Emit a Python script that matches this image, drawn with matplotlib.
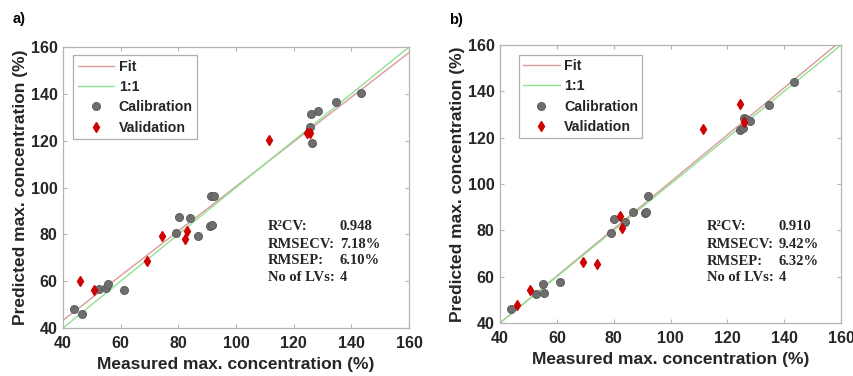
import matplotlib
matplotlib.use("Agg")
import matplotlib.pyplot as plt
import numpy as np

# ---- data ----
ticks = [40, 60, 80, 100, 120, 140, 160]

a_cal_x = [43.7, 46.5, 52.6, 55.0, 55.6, 61.2, 79.1, 80.3, 83.9, 86.8, 91.1, 91.7, 91.2, 92.4,
           125.8, 126.1, 128.4, 126.4, 134.6, 143.2]
a_cal_y = [48.2, 46.0, 56.5, 57.0, 58.9, 56.2, 80.6, 87.6, 86.9, 79.3, 83.6, 83.9, 96.4, 96.4,
           125.8, 131.3, 132.5, 119.0, 136.6, 140.4]
a_val_x = [46.0, 50.8, 69.1, 74.2, 82.2, 83.1, 111.4, 124.5, 125.5]
a_val_y = [59.9, 56.3, 68.6, 79.1, 78.1, 81.6, 120.3, 123.4, 123.4]
a_fit = [0.9525, 5.2]  # slope, intercept
a_stats = ["0.948", "7.18%", "6.10%", "4"]

b_cal_x = [43.75, 52.5, 55.0, 55.6, 61.0, 78.9, 80.2, 83.9, 86.8, 91.0, 91.4, 92.2,
           124.6, 125.4, 125.9, 126.7, 128.1, 134.5, 143.4]
b_cal_y = [46.2, 52.7, 57.0, 53.1, 57.7, 79.0, 85.1, 83.4, 87.7, 87.3, 87.8, 94.9,
           123.3, 124.1, 128.3, 128.0, 127.3, 134.2, 144.0]
b_val_x = [46.1, 50.7, 69.1, 74.1, 82.1, 83.0, 111.4, 124.6, 125.8]
b_val_y = [47.6, 54.1, 66.4, 65.4, 86.1, 80.8, 123.6, 134.4, 126.6]
b_fit = [1.015, -0.6]
b_stats = ["0.910", "9.42%", "6.32%", "4"]

stat_names = ["R\u00b2CV:", "RMSECV:", "RMSEP:", "No of LVs:"]

# ---- style ----
plt.rcParams['font.family'] = ['Liberation Sans', 'DejaVu Sans']
fig = plt.figure(figsize=(8.54, 3.76), dpi=100)
fig.patch.set_facecolor('white')

FIT_C = '#d99a9a'
ONE_C = '#8fe08f'
CAL_C = '#6e6e6e'
VAL_C = '#d00000'
FRAME_C = '#b4b4b4'
TXT_C = '#262626'


def panel(rect, cal_x, cal_y, val_x, val_y, fit, stats, stat_pos, legend_pos, label, label_pos):
    ax = fig.add_axes(rect)
    xs = np.array([40, 160])
    ax.plot(xs, fit[0] * xs + fit[1], color=FIT_C, lw=1.0, label='Fit', zorder=2)
    ax.plot(xs, xs, color=ONE_C, lw=1.0, label='1:1', zorder=2)
    ax.plot(cal_x, cal_y, 'o', color=CAL_C, mec='#555555', mew=0.6, ms=5.8,
            label='Calibration', zorder=3)
    ax.plot(val_x, val_y, 'd', color=VAL_C, mec=VAL_C, ms=5.5, label='Validation', zorder=4)
    ax.set_xlim(40, 160)
    ax.set_ylim(40, 160)
    ax.set_xticks(ticks)
    ax.set_yticks(ticks)
    ax.tick_params(direction='in', length=3, color=FRAME_C, top=True, right=True,
                   labelsize=11.5, labelcolor=TXT_C)
    ax.tick_params(axis='x', pad=6)
    ax.tick_params(axis='y', pad=4)
    for t in ax.get_xticklabels() + ax.get_yticklabels():
        t.set_fontweight('bold')
    for s in ax.spines.values():
        s.set_color(FRAME_C)
        s.set_linewidth(0.9)
    ax.set_xlabel('Measured max. concentration (%)', fontsize=12.5, fontweight='bold',
                  color=TXT_C, labelpad=4)
    ax.set_ylabel('Predicted max. concentration (%)', fontsize=12.5, fontweight='bold',
                  color=TXT_C, labelpad=2)
    leg = ax.legend(loc='upper left', bbox_to_anchor=legend_pos, frameon=True, fancybox=False,
                    edgecolor='#9a9a9a', fontsize=10.2, handlelength=2.6, handletextpad=0.3,
                    borderpad=0.3, labelspacing=0.45, borderaxespad=0)
    leg.get_frame().set_linewidth(0.9)
    for t in leg.get_texts():
        t.set_fontweight('bold')
        t.set_color(TXT_C)
    x0, x1, ys = stat_pos
    for name, val, y in zip(stat_names, stats, ys):
        ax.text(x0, y, name, family=['Liberation Serif'], fontweight='bold', fontsize=10.5,
                va='center', ha='left', color=TXT_C)
        ax.text(x1, y, val, family=['Liberation Serif'], fontweight='bold', fontsize=10.5,
                va='center', ha='left', color=TXT_C)
    fig.text(label_pos[0], label_pos[1], label, fontsize=10.5, fontweight='bold',
             color='black', ha='left', va='center')
    return ax


panel([63 / 854, 1 - 328 / 376, 346 / 854, 281 / 376], a_cal_x, a_cal_y, a_val_x, a_val_y,
      a_fit, a_stats, (111.1, 136.0, [83.3, 75.8, 68.7, 61.6]),
      (0.03, 0.97), 'a)', (13 / 854, 1 - 19 / 376))
panel([500 / 854, 1 - 323 / 376, 341 / 854, 278 / 376], b_cal_x, b_cal_y, b_val_x, b_val_y,
      b_fit, b_stats, (112.9, 138.1, [81.5, 73.9, 66.7, 59.5]),
      (0.055, 0.965), 'b)', (449 / 854, 1 - 20 / 376))

fig.savefig('out.png', dpi=100, facecolor='white')
